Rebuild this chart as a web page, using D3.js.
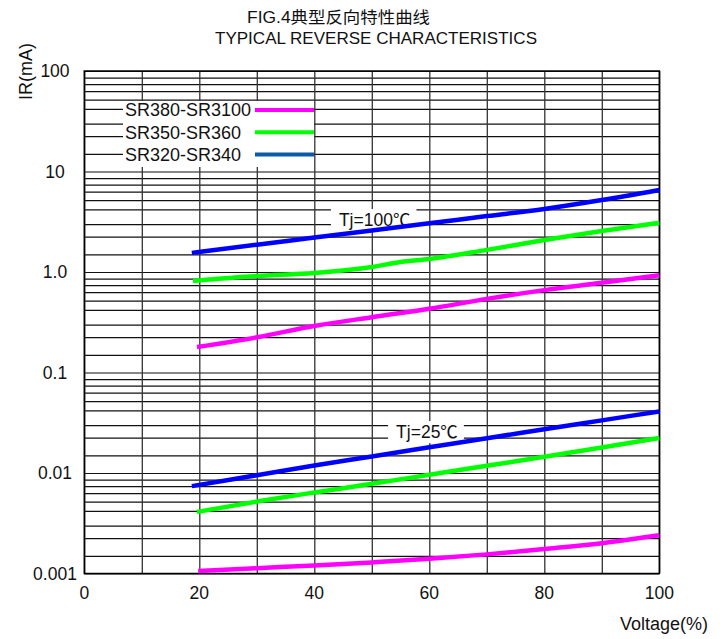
<!DOCTYPE html>
<html><head><meta charset="utf-8">
<script src="https://cdn.jsdelivr.net/npm/d3@7"></script>
<style>
body{margin:0;background:#fff}
svg{display:block}
text{font-family:"Liberation Sans",Arial,"Noto Sans CJK SC",sans-serif;fill:#111}
</style>
</head><body>
<svg id="chart" width="726" height="639"></svg>
<script>
// ---------- data ----------
const titleCN = "FIG.4典型反向特性曲线";
const titleEN = "TYPICAL REVERSE CHARACTERISTICS";
const yAxisTitle = "IR(mA)";
const xAxisTitle = "Voltage(%)";

const xTicks = [0, 20, 40, 60, 80, 100];
const xGrid = [0, 10, 20, 30, 40, 50, 60, 70, 80, 90, 100];
const yTicks = [100, 10, 1, 0.1, 0.01, 0.001];
const yTickLabels = ["100", "10", "1.0", "0.1", "0.01", "0.001"];
const decades = [0.001, 0.01, 0.1, 1, 10, 100];
const gridMinor = [1.5, 2.25, 3, 4.2, 5.2, 6.3, 7.4, 8.6];

const seriesNames = ["SR380-SR3100", "SR350-SR360", "SR320-SR340"];

// Tj = 100°C
const V_blue100 = [18.7, 30, 40, 50, 60, 70, 80, 90, 100];
const IR_blue100 = [1.55, 1.87, 2.20, 2.59, 3.05, 3.6, 4.24, 5.2, 6.55];
const V_green100 = [18.9, 30, 40, 50, 55, 60, 70, 80, 90, 100];
const IR_green100 = [0.814, 0.912, 0.977, 1.12, 1.26, 1.35, 1.66, 2.08, 2.56, 3.08];
const V_mag100 = [19.6, 30, 40, 50, 60, 70, 80, 90, 100];
const IR_mag100 = [0.179, 0.224, 0.29, 0.355, 0.43, 0.54, 0.66, 0.78, 0.93];

// Tj = 25°C
const V_blue25 = [18.7, 30, 40, 50, 60, 70, 80, 90, 100];
const IR_blue25 = [0.0074, 0.0095, 0.0119, 0.0146, 0.018, 0.0222, 0.0272, 0.0334, 0.041];
const V_green25 = [19.6, 30, 40, 50, 60, 70, 80, 90, 100];
const IR_green25 = [0.0041, 0.0052, 0.0064, 0.0078, 0.0096, 0.0118, 0.0145, 0.0179, 0.0223];
const V_mag25 = [19.8, 30, 40, 50, 60, 70, 80, 90, 100];
const IR_mag25 = [0.00106, 0.00113, 0.0012, 0.00129, 0.0014, 0.00155, 0.00175, 0.002, 0.0024];

const annotationLabels = ["Tj=100℃", "Tj=25℃"];
const annotationV = [50.5, 59.6];
const annotationIR = [3.3, 0.0256];

// ---------- styles ----------
const curveColors = {mag: "#ff00ff", green: "#00ff00", blue: "#0000ff"};
const legendColors = ["#ff00ff", "#00ff00", "#0a5aa8"];

// ---------- build ----------
const svg = d3.select("#chart");
const L = 84.3, R = 659.3, T = 71, B = 573.5;
const x = d3.scaleLinear().domain([0, 100]).range([L, R]);
const y = d3.scaleLog().domain([0.001, 100]).range([B, T]);

// grid
const hGridVals = [];
decades.forEach(d => {
  hGridVals.push(d);
  if (d < 100) gridMinor.forEach(m => hGridVals.push(d * m));
});
const g = svg.append("g");
g.append("g").attr("transform", `translate(${L},0)`)
  .call(d3.axisLeft(y).tickValues(hGridVals).tickSize(-(R - L)).tickFormat(""))
  .call(s => s.select(".domain").remove())
  .call(s => s.selectAll("line").attr("stroke", "#111").attr("stroke-width", 1.2));
g.append("g").attr("transform", `translate(0,${B})`)
  .call(d3.axisBottom(x).tickValues(xGrid).tickSize(-(B - T)).tickFormat(""))
  .call(s => s.select(".domain").remove())
  .call(s => s.selectAll("line").attr("stroke", "#333").attr("stroke-width", 1.3));

svg.append("rect").attr("x", L).attr("y", T).attr("width", R - L).attr("height", B - T)
  .attr("fill", "none").attr("stroke", "#000").attr("stroke-width", 1.5);

// titles
svg.append("text").attr("x", 247).attr("y", 23).attr("font-size", 16)
  .attr("textLength", 183).attr("lengthAdjust", "spacingAndGlyphs").text(titleCN);
svg.append("text").attr("x", 215).attr("y", 43.5).attr("font-size", 16.5)
  .attr("textLength", 322).attr("lengthAdjust", "spacingAndGlyphs").text(titleEN);

// axis labels
svg.append("g").selectAll("text").data(yTicks).join("text")
  .attr("x", 55).attr("y", d => y(d)).attr("dy", "0.35em")
  .attr("text-anchor", "middle").attr("font-size", 17.5)
  .text((d, i) => yTickLabels[i]);
svg.append("g").selectAll("text").data(xTicks).join("text")
  .attr("x", d => x(d)).attr("y", 599)
  .attr("text-anchor", "middle").attr("font-size", 17.5)
  .text(d => d);
svg.append("text").attr("transform", "translate(32,71.5) rotate(-90)")
  .attr("text-anchor", "middle").attr("font-size", 18).text(yAxisTitle);
svg.append("text").attr("x", 664).attr("y", 630)
  .attr("text-anchor", "middle").attr("font-size", 18).text(xAxisTitle);

// legend
const lg = svg.append("g");
lg.append("rect").attr("x", 123).attr("y", 101).attr("width", 191).attr("height", 66).attr("fill", "#fff");
seriesNames.forEach((n, i) => {
  const cy = 110 + i * 22.2;
  lg.append("text").attr("x", 125).attr("y", cy).attr("dy", "0.35em").attr("font-size", 18).text(n);
  lg.append("line").attr("x1", 255).attr("x2", 314).attr("y1", cy).attr("y2", cy)
    .attr("stroke", legendColors[i]).attr("stroke-width", 4);
});

// annotations
annotationLabels.forEach((lab, i) => {
  const ag = svg.append("g");
  const bg = ag.append("rect").attr("fill", "#fff");
  const t = ag.append("text").attr("x", x(annotationV[i])).attr("y", y(annotationIR[i])).attr("dy", "0.35em")
    .attr("text-anchor", "middle").attr("font-size", 17.5).text(lab);
  const bb = t.node().getBBox();
  bg.attr("x", bb.x - 8).attr("y", bb.y - 1)
    .attr("width", bb.width + 14).attr("height", bb.height + 2);
});

// curves
const line = d3.line().x(d => x(d[0])).y(d => y(d[1])).curve(d3.curveMonotoneX);
const curves = [
  [V_blue100, IR_blue100, curveColors.blue],
  [V_green100, IR_green100, curveColors.green],
  [V_mag100, IR_mag100, curveColors.mag],
  [V_blue25, IR_blue25, curveColors.blue],
  [V_green25, IR_green25, curveColors.green],
  [V_mag25, IR_mag25, curveColors.mag]
];
curves.forEach(([vs, irs, c]) => {
  svg.append("path").datum(vs.map((v, i) => [v, irs[i]]))
    .attr("d", line).attr("fill", "none").attr("stroke", c).attr("stroke-width", 4.5);
});
</script>
</body></html>
